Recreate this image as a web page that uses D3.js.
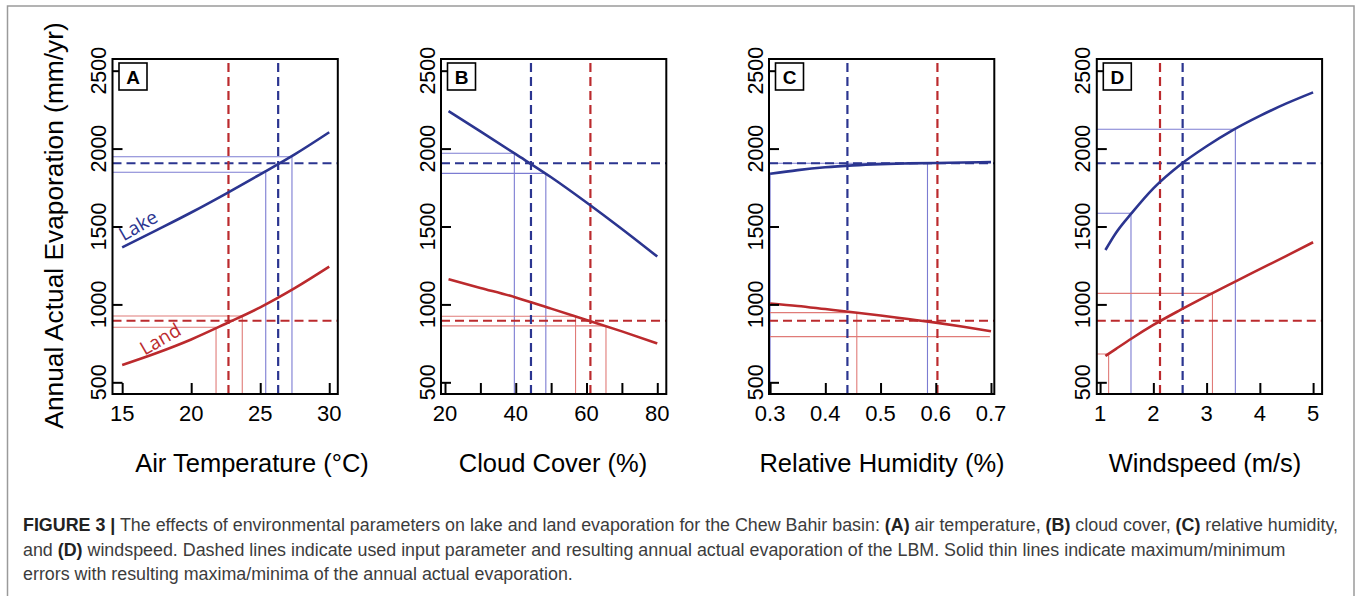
<!DOCTYPE html>
<html>
<head>
<meta charset="utf-8">
<script src="https://cdn.jsdelivr.net/npm/d3@7"></script>
<style>
  html, body { margin: 0; padding: 0; background: #fff; }
  svg { display: block; }
</style>
</head>
<body>
<svg id="fig" width="1357" height="596"></svg>
<script>
// ---- Panel A: air temperature (°C)
const airTemp = [15, 17.5, 20, 22.5, 25, 27.5, 30];
const airLake = [1366, 1477, 1590, 1710, 1835, 1963, 2105];
const airLand = [611, 688, 775, 876, 981, 1104, 1242];
const airLakeErr = [[25.4, 1848], [27.3, 1948]];
const airLandErr = [[21.8, 853], [23.7, 926]];

// ---- Panel B: cloud cover (%)
const cloudCover = [21, 30, 40, 50, 60, 70, 80];
const cloudLake = [2240, 2110, 1964, 1816, 1654, 1484, 1307];
const cloudLand = [1161, 1106, 1045, 973, 900, 827, 750];
const cloudLakeErr = [[39.6, 1970], [48.5, 1841]];
const cloudLandErr = [[56.9, 924], [65.5, 862]];

// ---- Panel C: relative humidity
const humidity = [0.30, 0.35, 0.40, 0.45, 0.50, 0.55, 0.60, 0.65, 0.70];
const humLake = [1838, 1862, 1880, 1892, 1900, 1905, 1908, 1911, 1913];
const humLand = [1006, 990, 970, 950, 929, 906, 883, 857, 828];
const humLakeErr = [[0.30, 1841], [0.585, 1906]];
const humLandErr = [[0.457, 947], [0.698, 793, "h"]];

// ---- Panel D: windspeed (m/s)
const windspeed = [1.1, 1.3, 1.6, 2.0, 2.5, 3.0, 3.5, 4.0, 4.5, 5.0];
const windLake = [1349, 1460, 1589, 1745, 1895, 2015, 2120, 2210, 2290, 2361];
const windLand = [669, 715, 783, 868, 963, 1053, 1140, 1226, 1312, 1399];
const windLakeErr = [[1.58, 1585], [3.54, 2124]];
const windLandErr = [[1.16, 682], [3.11, 1071]];

// ---- Used input parameters (dashed) and resulting annual evaporation
const inputLake = [26.3, 44.3, 0.44, 2.55];
const inputLand = [22.7, 61.1, 0.603, 2.125];
const evapLake = 1906;
const evapLand = 895;

// ---- Axes
const panelLetters = ["A", "B", "C", "D"];
const xTitles = ["Air Temperature (°C)", "Cloud Cover (%)", "Relative Humidity (%)", "Windspeed (m/s)"];
const xTicks = [[15, 20, 25, 30], [20, 30, 40, 50, 60, 70, 80], [0.3, 0.4, 0.5, 0.6, 0.7], [1, 2, 3, 4, 5]];
const xTickLabels = [["15", "20", "25", "30"], ["20", "", "40", "", "60", "", "80"], ["0.3", "0.4", "0.5", "0.6", "0.7"], ["1", "2", "3", "4", "5"]];
const xDomains = [[14.3, 30.62], [18.87, 82.55], [0.298, 0.706], [0.938, 5.169]];
const yTicks = [500, 1000, 1500, 2000, 2500];
const yDomain = [425, 2575];
const yTitle = "Annual Actual Evaporation (mm/yr)";

// ---- Layout
const boxLefts = [112.5, 441, 769, 1096.8];
const boxW = 225.3;
const boxTop = 59, boxBottom = 394;
const titleCenters = [252, 553, 882, 1205];

const LAKE = "#2b3590", LAND = "#bb2a2d";
const LAKE_THIN = "#7c7cd2", LAND_THIN = "#e07b78";
const FONT = "'Liberation Sans', Arial, Helvetica, sans-serif";
const LABEL_FONT = "'Open Sans', 'Noto Sans', sans-serif";

const svg = d3.select("#fig");

// outer figure frame
svg.append("rect")
  .attr("x", 7.5).attr("y", 6)
  .attr("width", 1346.5).attr("height", 620)
  .attr("fill", "none").attr("stroke", "#9a9a9a").attr("stroke-width", 1.5);

const panels = [
  { x: airTemp, lake: airLake, land: airLand, lakeErr: airLakeErr, landErr: airLandErr },
  { x: cloudCover, lake: cloudLake, land: cloudLand, lakeErr: cloudLakeErr, landErr: cloudLandErr },
  { x: humidity, lake: humLake, land: humLand, lakeErr: humLakeErr, landErr: humLandErr },
  { x: windspeed, lake: windLake, land: windLand, lakeErr: windLakeErr, landErr: windLandErr }
];

const y = d3.scaleLinear().domain(yDomain).range([boxBottom, boxTop]);

panels.forEach((p, i) => {
  const left = boxLefts[i];
  const x = d3.scaleLinear().domain(xDomains[i]).range([left, left + boxW]);
  const g = svg.append("g");

  const clipId = "clip" + i;
  svg.append("clipPath").attr("id", clipId)
    .append("rect").attr("x", left).attr("y", boxTop)
    .attr("width", boxW).attr("height", boxBottom - boxTop);

  const plot = g.append("g").attr("clip-path", `url(#${clipId})`);
  const [xa, xb] = xDomains[i];
  const y0 = yDomain[0];

  // thin min/max error guide lines
  function errLines(list, color) {
    list.forEach(([ex, ev, kind]) => {
      plot.append("line")
        .attr("x1", x(xa)).attr("x2", x(ex))
        .attr("y1", y(ev)).attr("y2", y(ev))
        .attr("stroke", color).attr("stroke-width", 1.1);
      if (kind !== "h") {
        plot.append("line")
          .attr("x1", x(ex)).attr("x2", x(ex))
          .attr("y1", y(y0)).attr("y2", y(ev))
          .attr("stroke", color).attr("stroke-width", 1.1);
      }
    });
  }
  errLines(p.lakeErr, LAKE_THIN);
  errLines(p.landErr, LAND_THIN);

  // dashed reference lines: used input and resulting evaporation
  const dash = "9,5";
  const dashed = (x1, x2, y1, y2, c) => plot.append("line")
    .attr("x1", x1).attr("x2", x2).attr("y1", y1).attr("y2", y2)
    .attr("stroke", c).attr("stroke-width", 2.2).attr("stroke-dasharray", dash);
  dashed(x(xa), x(xb), y(evapLand), y(evapLand), LAND);
  dashed(x(xa), x(xb), y(evapLake), y(evapLake), LAKE);
  dashed(x(inputLand[i]), x(inputLand[i]), y(yDomain[0]), y(yDomain[1]), LAND);
  dashed(x(inputLake[i]), x(inputLake[i]), y(yDomain[0]), y(yDomain[1]), LAKE);

  // evaporation curves
  const line = d3.line().curve(d3.curveMonotoneX);
  plot.append("path")
    .attr("d", line(p.x.map((v, k) => [x(v), y(p.lake[k])])))
    .attr("fill", "none").attr("stroke", LAKE).attr("stroke-width", 2.6);
  plot.append("path")
    .attr("d", line(p.x.map((v, k) => [x(v), y(p.land[k])])))
    .attr("fill", "none").attr("stroke", LAND).attr("stroke-width", 2.6);

  // inward ticks
  const yAxis = d3.axisLeft(y).tickValues(yTicks).tickSize(-10).tickFormat("");
  const ya = g.append("g").attr("transform", `translate(${left},0)`).call(yAxis);
  ya.select(".domain").remove();
  ya.selectAll("line").attr("stroke", "#000").attr("stroke-width", 2);

  const xAxis = d3.axisBottom(x).tickValues(xTicks[i]).tickSize(-11).tickFormat("");
  const xg = g.append("g").attr("transform", `translate(0,${boxBottom})`).call(xAxis);
  xg.select(".domain").remove();
  xg.selectAll("line").attr("stroke", "#000").attr("stroke-width", 2);

  // tick labels
  g.selectAll(".xl").data(xTicks[i]).enter().append("text")
    .attr("x", d => x(d)).attr("y", 421)
    .attr("text-anchor", "middle")
    .attr("font-family", FONT).attr("font-size", 22).attr("fill", "#000")
    .text((d, k) => xTickLabels[i][k]);

  g.selectAll(".yl").data(yTicks).enter().append("text")
    .attr("transform", d => `translate(${left - 6.5},${y(d)}) rotate(-90)`)
    .attr("text-anchor", "middle")
    .attr("font-family", FONT).attr("font-size", 21.5).attr("fill", "#000")
    .text(d => d);

  // plot frame
  g.append("rect")
    .attr("x", left).attr("y", boxTop)
    .attr("width", boxW).attr("height", boxBottom - boxTop)
    .attr("fill", "none").attr("stroke", "#000").attr("stroke-width", 2);

  // panel letter
  g.append("rect")
    .attr("x", left + 6.5).attr("y", 63)
    .attr("width", 28).attr("height", 27)
    .attr("fill", "#fff").attr("stroke", "#000").attr("stroke-width", 1.6);
  g.append("text")
    .attr("x", left + 20.5).attr("y", 83.5)
    .attr("text-anchor", "middle")
    .attr("font-family", FONT).attr("font-weight", "bold").attr("font-size", 19)
    .text(panelLetters[i]);

  // x title
  svg.append("text")
    .attr("x", titleCenters[i]).attr("y", 472)
    .attr("text-anchor", "middle")
    .attr("font-family", FONT).attr("font-size", 25.5).attr("fill", "#000")
    .text(xTitles[i]);

  // curve labels on panel A
  if (i === 0) {
    svg.append("text")
      .attr("transform", `translate(${x(16.4)},${y(1470)}) rotate(-30)`)
      .attr("text-anchor", "middle")
      .attr("font-family", LABEL_FONT).attr("font-size", 19)
      .attr("fill", LAKE).text("Lake");
    svg.append("text")
      .attr("transform", `translate(${x(18.0)},${y(740)}) rotate(-30)`)
      .attr("text-anchor", "middle")
      .attr("font-family", LABEL_FONT).attr("font-size", 19)
      .attr("fill", LAND).text("Land");
  }
});

// shared y title
svg.append("text")
  .attr("transform", `translate(63,225.5) rotate(-90)`)
  .attr("text-anchor", "middle")
  .attr("font-family", FONT).attr("font-size", 26.3).attr("fill", "#000")
  .text(yTitle);

// caption: condensed to the width of the first line, same squeeze on every line
const CAP_FONT = "'Liberation Sans Narrow', 'Liberation Sans', Arial, sans-serif";
const captionLines = [
  { y: 531, parts: [["FIGURE 3 |", true], [" The effects of environmental parameters on lake and land evaporation for the Chew Bahir basin: ", false], ["(A)", true], [" air temperature, ", false], ["(B)", true], [" cloud cover, ", false], ["(C)", true], [" relative humidity,", false]] },
  { y: 555.5, parts: [["and ", false], ["(D)", true], [" windspeed. Dashed lines indicate used input parameter and resulting annual actual evaporation of the LBM. Solid thin lines indicate maximum/minimum", false]] },
  { y: 580, parts: [["errors with resulting maxima/minima of the annual actual evaporation.", false]] }
];
const firstLineWidth = 1315;
const capNodes = captionLines.map(l => {
  const t = svg.append("text")
    .attr("x", 23).attr("y", l.y)
    .attr("font-family", CAP_FONT).attr("font-size", 17.5)
    .attr("fill", "#3c3c3c")
    .attr("xml:space", "preserve");
  l.parts.forEach(([s, b]) => {
    t.append("tspan").text(s)
      .attr("font-weight", b ? "bold" : "normal")
      .attr("fill", b ? "#222" : "#3c3c3c");
  });
  return t;
});
const squeeze = firstLineWidth / capNodes[0].node().getComputedTextLength();
capNodes.forEach(t => {
  const w = t.node().getComputedTextLength();
  t.attr("textLength", w * squeeze).attr("lengthAdjust", "spacingAndGlyphs");
});
</script>
</body>
</html>
